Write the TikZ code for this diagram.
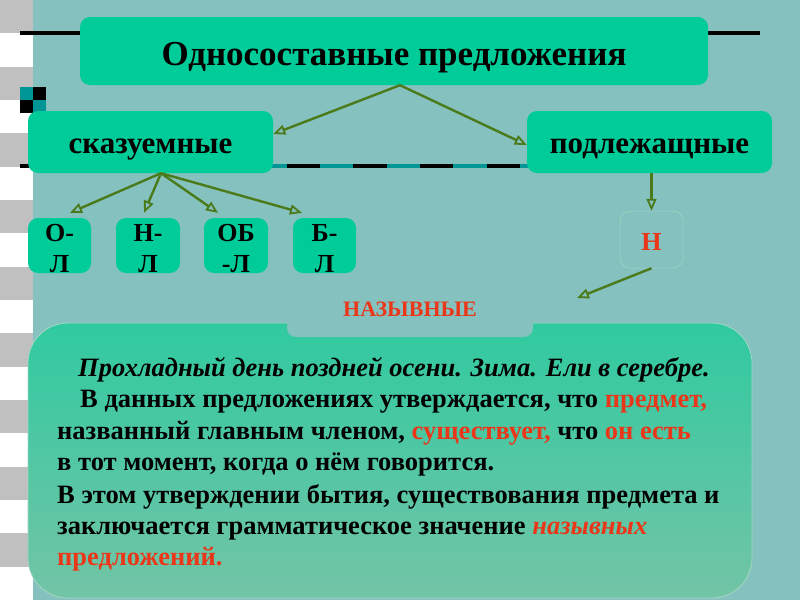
\documentclass[tikz,border=0pt]{standalone}
\usepackage{fontspec}
\setmainfont{Liberation Serif}
\usetikzlibrary{arrows.meta}
\definecolor{bg}{RGB}{133,193,190}
\definecolor{boxg}{RGB}{0,204,153}
\definecolor{arr}{RGB}{74,122,26}
\definecolor{redt}{RGB}{235,55,25}
\definecolor{stripe}{RGB}{192,192,192}
\definecolor{tealc}{RGB}{0,150,150}
\definecolor{gtop}{RGB}{48,202,160}
\definecolor{gbot}{RGB}{115,196,166}
\definecolor{rimc}{RGB}{165,215,195}
\newcommand{\twoline}[2]{\begin{tabular}[b]{@{}c@{}}#1\\#2\end{tabular}}
\begin{document}
\begin{tikzpicture}[x=1pt,y=-1pt,
  gbox/.style={fill=boxg, rounded corners=10pt, inner sep=0pt},
  smallbox/.style={gbox, minimum width=63pt, minimum height=55pt, text height=54pt, text depth=0pt, font=\bfseries\fontsize{26}{31}\selectfont},
  arrowline/.style={draw=arr, line width=2.4pt, -{Triangle[open, length=12pt, width=10pt, line width=1.8pt]}},
  bodyline/.style={anchor=base west, inner sep=0pt, font=\bfseries\fontsize{26.5}{31}\selectfont}]
\useasboundingbox (0,0) rectangle (800,600);
% background
\fill[white] (0,0) rectangle (33,600);
\fill[bg] (33,0) rectangle (800,600);
\foreach \i in {0,...,8} {
  \fill[stripe] (0,{\i*66.667}) rectangle (33,{\i*66.667+33.333});
}
% decorative lines
\draw[black, line width=4pt] (20,33) -- (760,33);
\draw[tealc, line width=4pt] (20,166) -- (760,166);
\draw[black, line width=4pt, dash pattern=on 33.333pt off 33.333pt] (20,166) -- (760,166);
% checker
\fill[tealc] (20,87) rectangle (33,100);
\fill[black] (33,87) rectangle (46,100);
\fill[black] (20,100) rectangle (33,113);
\fill[tealc] (33,100) rectangle (46,113);
% boxes
\node[gbox, minimum width=628pt, minimum height=68pt, text height=28pt, text depth=0pt, font=\bfseries\fontsize{35}{40}\selectfont] (title) at (394,51) {Односоставные предложения};
\node[gbox, minimum width=245pt, minimum height=62pt, text height=22pt, text depth=0pt, font=\bfseries\fontsize{31}{36}\selectfont] (skaz) at (150.5,142) {сказуемные};
\node[gbox, minimum width=245pt, minimum height=62pt, text height=22pt, text depth=0pt, font=\bfseries\fontsize{31}{36}\selectfont] (podl) at (649.5,142) {подлежащные};
\node[smallbox] (ol) at (59.5,245.5) {\twoline{О-}{Л}};
\node[smallbox, minimum width=64pt] (hl) at (148,245.5) {\twoline{Н-}{Л}};
\node[smallbox, minimum width=64pt] (obl) at (236,245.5) {\twoline{ОБ}{-Л}};
\node[smallbox] (bl) at (324.5,245.5) {\twoline{Б-}{Л}};
\node[gbox, fill=bg, draw=rimc, line width=0.5pt, minimum width=63pt, minimum height=57pt, text height=21pt, text depth=0pt, text=redt, font=\bfseries\fontsize{26}{31}\selectfont] (n) at (651.5,239.5) {Н};
% arrows
\draw[arrowline] ([xshift=6pt]title.south) -- ([yshift=8pt]skaz.east);
\draw[arrowline] ([xshift=6pt]title.south) -- ([yshift=-3pt]podl.west);
\draw[arrowline] ([xshift=10.5pt]skaz.south) -- ([xshift=10.5pt,yshift=5pt]ol.north);
\draw[arrowline] ([xshift=10.5pt]skaz.south) -- ([xshift=-4pt,yshift=5pt]hl.north);
\draw[arrowline] ([xshift=10.5pt]skaz.south) -- ([xshift=-18pt,yshift=5pt]obl.north);
\draw[arrowline] ([xshift=10.5pt]skaz.south) -- ([xshift=-22.5pt,yshift=5pt]bl.north);
\draw[arrowline] (n.north |- podl.south) -- (n.north);
\coordinate (nz) at (577,298);
\draw[arrowline] (n.south) -- (nz);
% big box
\path[draw=rimc, line width=0.8pt, top color=gtop, bottom color=gbot, rounded corners=40pt] (28,323) rectangle (752,598);
\fill[bg, rounded corners=9pt] (287,290) rectangle (533,337);
\node[anchor=base, inner sep=0pt, text=redt, font=\bfseries\fontsize{22}{26}\selectfont] (naz) at (410,316) {НАЗЫВНЫЕ};
% body text
\node[bodyline, font=\bfseries\itshape\fontsize{26.5}{31}\selectfont] (l1) at (78,376) {Прохладный день поздней осени. Зима. Ели в серебре.};
\node[bodyline] (l2) at (80,407) {В данных предложениях утверждается, что \textcolor{redt}{предмет,}};
\node[bodyline] (l3) at (57,439) {названный главным членом, \textcolor{redt}{существует,} что \textcolor{redt}{он есть}};
\node[bodyline] (l4) at (57,470) {в тот момент, когда о нём говорится.};
\node[bodyline] (l5) at (57,503) {В этом утверждении бытия, существования предмета и};
\node[bodyline] (l6) at (57,534) {заключается грамматическое значение \textcolor{redt}{\itshape назывных}};
\node[bodyline] (l7) at (57,565) {\textcolor{redt}{предложений.}};
\end{tikzpicture}
\end{document}
